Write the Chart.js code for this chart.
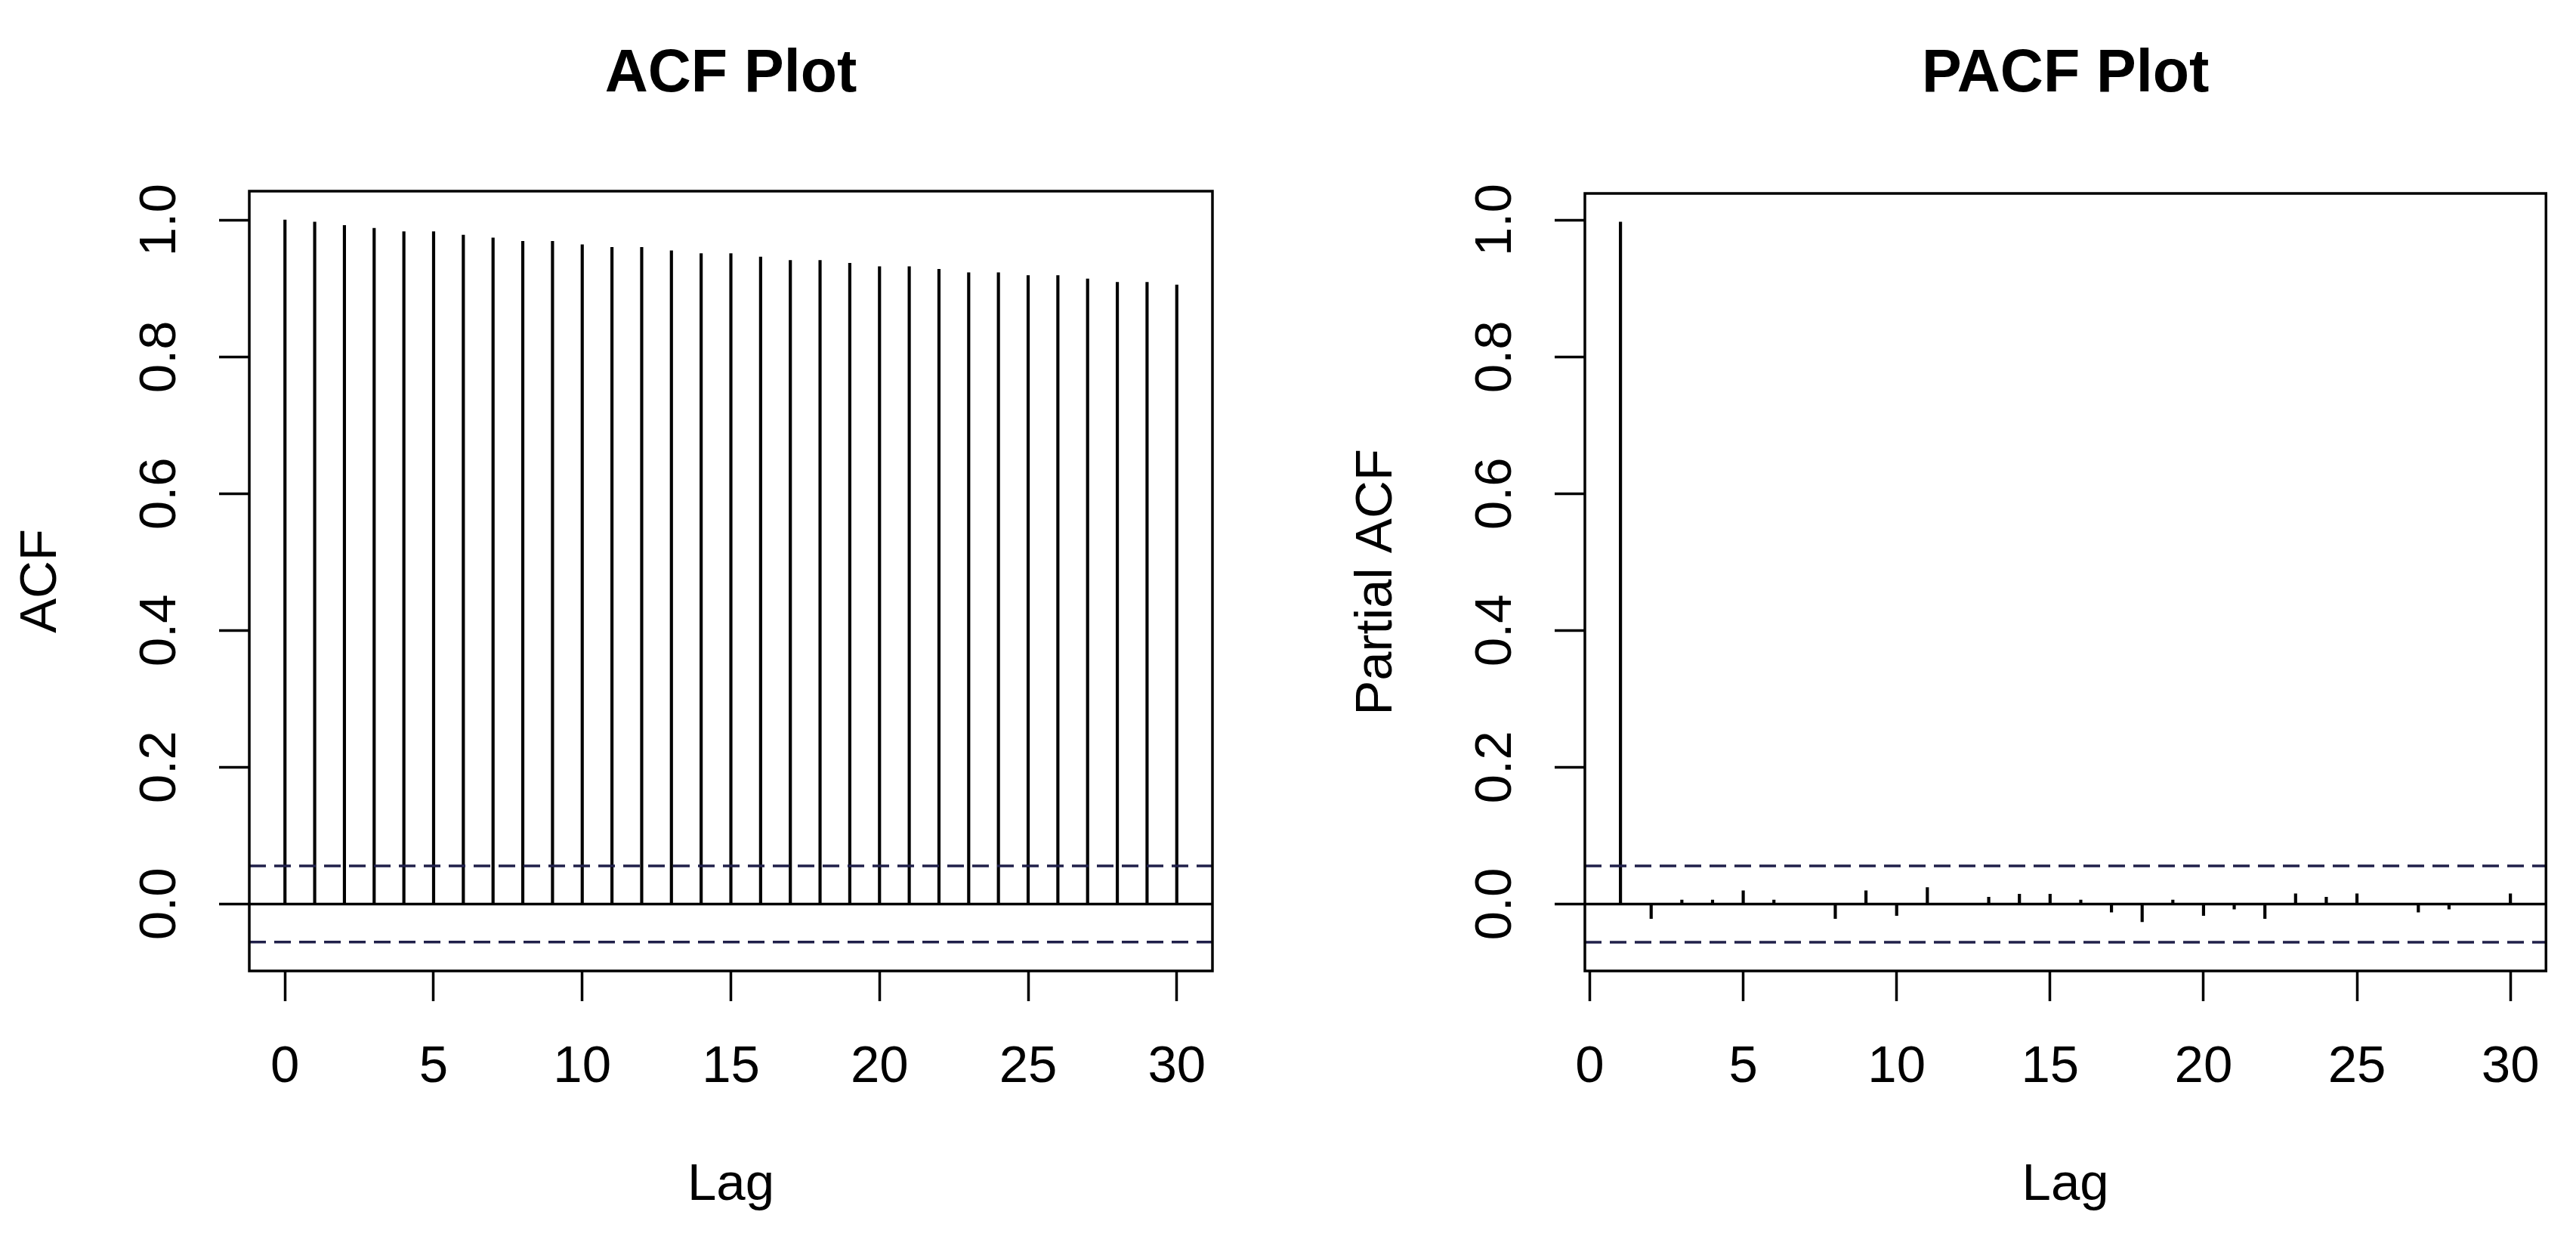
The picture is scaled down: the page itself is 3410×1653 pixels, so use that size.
<!DOCTYPE html>
<html>
<head>
<meta charset="utf-8">
<script src="https://cdn.jsdelivr.net/npm/chart.js@4/dist/chart.umd.min.js"></script>
<style>
  html, body { margin: 0; padding: 0; background: #fff; }
  body { width: 3410px; height: 1653px; position: relative; overflow: hidden; }
  .panel { position: absolute; top: 0; }
</style>
</head>
<body>
<div class="panel" style="left:0px"><canvas id="acfChart" width="1705" height="1653"></canvas></div>
<div class="panel" style="left:1768px"><canvas id="pacfChart" width="1642" height="1653"></canvas></div>
<script>
// lags and estimated values
var acfLags = [0, 1, 2, 3, 4, 5, 6, 7, 8, 9, 10, 11, 12, 13, 14, 15, 16, 17, 18, 19, 20,
  21, 22, 23, 24, 25, 26, 27, 28, 29, 30];
var acfValues = [1.000, 0.997, 0.992, 0.988, 0.983, 0.983, 0.978, 0.974, 0.969, 0.969, 0.964,
  0.960, 0.960, 0.955, 0.951, 0.951, 0.946, 0.941, 0.941, 0.937, 0.932,
  0.932, 0.928, 0.923, 0.923, 0.919, 0.919, 0.914, 0.909, 0.909, 0.905];

var pacfLags = [1, 2, 3, 4, 5, 6, 7, 8, 9, 10, 11, 12, 13, 14, 15, 16, 17, 18, 19, 20,
  21, 22, 23, 24, 25, 26, 27, 28, 29, 30];
var pacfValues = [0.997, -0.021, 0.006, 0.006, 0.0195, 0.006, 0.001, -0.021, 0.0195, -0.0166,
  0.0243, 0.001, 0.0103, 0.0147, 0.0147, 0.006, -0.0118, -0.0258, 0.006, -0.0166,
  -0.0074, -0.021, 0.0151, 0.0103, 0.0151, 0.001, -0.0118, -0.0074, -0.001, 0.0151];

// 95% confidence bound (dashed lines)
var ciBound = 0.0557;

var fontFamily = '"Liberation Sans", Arial, sans-serif';
var ink = '#000';
var ciColor = '#20204a';
var lw = 3.5;

// draws the full frame round the plot region, like R's box()
var boxPlugin = {
  id: 'rbox',
  afterDatasetsDraw: function(chart) {
    var a = chart.chartArea;
    var ctx = chart.ctx;
    ctx.save();
    ctx.strokeStyle = ink;
    ctx.lineWidth = lw;
    ctx.strokeRect(a.left, a.top, a.right - a.left, a.bottom - a.top);
    ctx.restore();
  }
};

function hLine(y, xMin, xMax, color, dash, order) {
  return {
    type: 'line',
    data: [{x: xMin, y: y}, {x: xMax, y: y}],
    borderColor: color,
    borderWidth: lw,
    borderDash: dash,
    pointRadius: 0,
    fill: false,
    order: order
  };
}

function buildChart(canvasId, cfg) {
  var points = cfg.lags.map(function(lag, i) {
    return {x: lag, y: cfg.values[i]};
  });

  var xMin = cfg.xRange[0], xMax = cfg.xRange[1];

  new Chart(document.getElementById(canvasId), {
    type: 'bar',
    data: {
      datasets: [
        hLine(ciBound, xMin, xMax, ciColor, [22, 11], 1),
        hLine(-ciBound, xMin, xMax, ciColor, [22, 11], 1),
        hLine(0, xMin, xMax, ink, [], 2),
        {
          type: 'bar',
          data: points,
          backgroundColor: ink,
          borderWidth: 0,
          barThickness: lw,
          order: 3
        }
      ]
    },
    options: {
      responsive: false,
      animation: false,
      layout: { padding: { left: 0, right: cfg.rightPad, top: 0, bottom: 0 } },
      plugins: {
        legend: { display: false },
        tooltip: { enabled: false },
        title: {
          display: true,
          text: cfg.title,
          fullSize: false,
          color: ink,
          font: { family: fontFamily, size: 79, weight: 'bold', lineHeight: 1 },
          padding: { top: 60, bottom: cfg.titleGap }
        }
      },
      scales: {
        x: {
          type: 'linear',
          min: xMin,
          max: xMax,
          offset: false,
          grid: { display: true, drawOnChartArea: false, drawTicks: true, tickLength: 40,
                  tickWidth: lw, tickColor: ink, offset: false },
          border: { display: false },
          ticks: {
            stepSize: 5,
            includeBounds: false,
            autoSkip: false,
            maxRotation: 0,
            color: ink,
            padding: 47,
            font: { family: fontFamily, size: 69 },
            callback: function(v) { return String(v); }
          },
          title: {
            display: true, text: 'Lag', color: ink,
            font: { family: fontFamily, size: 69 },
            padding: { top: 0, bottom: 43 }
          },
          afterFit: function(s) { s.height = 368; }
        },
        y: {
          type: 'linear',
          min: cfg.yRange[0],
          max: cfg.yRange[1],
          grid: { display: true, drawOnChartArea: false, drawTicks: true, tickLength: 40,
                  tickWidth: lw, tickColor: ink },
          border: { display: false },
          ticks: {
            stepSize: 0.2,
            includeBounds: false,
            minRotation: 90,
            maxRotation: 90,
            crossAlign: 'center',
            color: ink,
            padding: 29,
            font: { family: fontFamily, size: 69 },
            callback: function(v) { return v.toFixed(1); }
          },
          title: {
            display: true, text: cfg.yTitle, color: ink,
            font: { family: fontFamily, size: 69 },
            padding: { top: 13.6, bottom: 0 }
          },
          afterFit: function(s) { s.width = 330; }
        }
      }
    },
    plugins: [boxPlugin]
  });
}

buildChart('acfChart', {
  title: 'ACF Plot',
  yTitle: 'ACF',
  lags: acfLags,
  values: acfValues,
  xRange: [-1.2, 31.2],
  yRange: [-0.0979, 1.0422],
  rightPad: 100,
  titleGap: 114
});

buildChart('pacfChart', {
  title: 'PACF Plot',
  yTitle: 'Partial ACF',
  lags: pacfLags,
  values: pacfValues,
  xRange: [-0.16, 31.16],
  yRange: [-0.0977, 1.0388],
  rightPad: 37,
  titleGap: 117
});
</script>
</body>
</html>
